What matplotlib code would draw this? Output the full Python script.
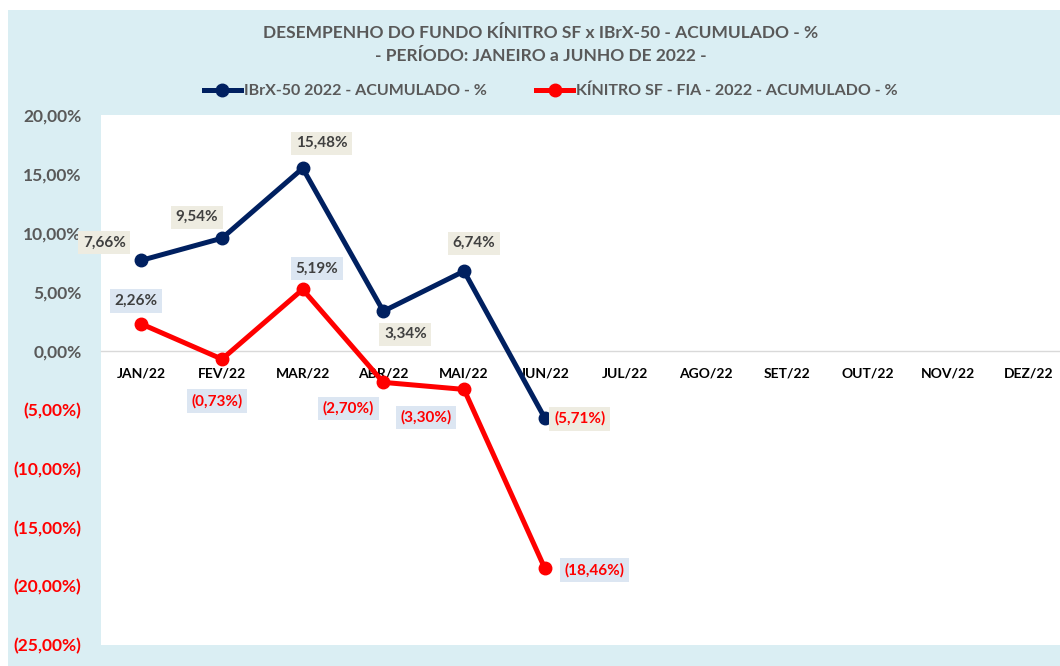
import matplotlib
matplotlib.use('Agg')
import matplotlib.pyplot as plt
from matplotlib.patches import Rectangle
from matplotlib.lines import Line2D

# dados (% acumulado 2022)
meses = ['JAN/22', 'FEV/22', 'MAR/22', 'ABR/22', 'MAI/22', 'JUN/22',
         'JUL/22', 'AGO/22', 'SET/22', 'OUT/22', 'NOV/22', 'DEZ/22']
ibrx = [7.66, 9.54, 15.48, 3.34, 6.74, -5.71]
kinitro = [2.26, -0.73, 5.19, -2.70, -3.30, -18.46]
y_ticks = [20, 15, 10, 5, 0, -5, -10, -15, -20, -25]

# posicao dos rotulos (pixels a partir do ponto)
off_ibrx = [(-37, 18), (-25, 21), (19, 25), (22, -23), (10, 28), (35, -1)]
off_kin = [(-5, 23), (-5, -42), (14, 21), (-35, -26), (-38, -28), (50, -2)]

AZUL = '#002060'
VERM = '#FF0000'
CINZA = '#595959'
TXT = '#404040'

plt.rcParams['font.family'] = ['Lato', 'DejaVu Sans']
plt.rcParams['font.weight'] = 'bold'


def fmt(v):
    s = f'{abs(v):.2f}'.replace('.', ',') + '%'
    return s if v >= 0 else '(' + s + ')'


fig = plt.figure(figsize=(10.6, 6.66), dpi=100, facecolor='white')
fig.patches.append(Rectangle((8 / 1060, 0), 1, 1 - 10 / 666, transform=fig.transFigure,
                             facecolor='#DAEEF3', edgecolor='none', zorder=-10))

ax = fig.add_axes([101 / 1060, 21 / 666, 968 / 1060, 530 / 666])
ax.set_facecolor('white')

x = range(len(ibrx))
ax.plot(x, ibrx, color=AZUL, lw=3.6, marker='o', ms=9, zorder=3,
        label='IBrX-50 2022 - ACUMULADO - %')
ax.plot(x, kinitro, color=VERM, lw=3.6, marker='o', ms=9, zorder=3,
        label='KÍNITRO SF - FIA - 2022 - ACUMULADO - %')

ax.set_xlim(-0.5, len(meses) - 0.5)
ax.set_ylim(-25, 20)
ax.set_xticks(range(len(meses)))
ax.set_xticklabels(meses, fontsize=11, color=CINZA, fontweight='bold')
ax.set_yticks(y_ticks)
ax.set_yticklabels([fmt(v) for v in y_ticks], fontsize=12.5, fontweight='bold')
for lab, v in zip(ax.get_yticklabels(), y_ticks):
    lab.set_color(VERM if v < 0 else CINZA)
ax.tick_params(axis='both', length=0)
ax.tick_params(axis='y', pad=14)
ax.tick_params(axis='x', pad=12)

for s in ['top', 'right', 'left']:
    ax.spines[s].set_visible(False)
ax.spines['bottom'].set_position(('data', 0))
ax.spines['bottom'].set_color('#D9D9D9')
ax.spines['bottom'].set_linewidth(1)

# rotulos de dados
for i, v in enumerate(ibrx):
    ax.annotate(fmt(v), (i, v), xytext=off_ibrx[i], textcoords='offset pixels',
                ha='center', va='center', fontsize=11, fontweight='bold',
                color=VERM if v < 0 else TXT, zorder=5,
                bbox=dict(boxstyle='square,pad=0.3', fc='#EEECE1', ec='none'))
for i, v in enumerate(kinitro):
    ax.annotate(fmt(v), (i, v), xytext=off_kin[i], textcoords='offset pixels',
                ha='center', va='center', fontsize=11, fontweight='bold',
                color=VERM if v < 0 else TXT, zorder=5,
                bbox=dict(boxstyle='square,pad=0.3', fc='#DCE6F2', ec='none'))

fig.text(541 / 1060, 1 - 33 / 666, 'DESEMPENHO DO FUNDO KÍNITRO SF x IBrX-50 - ACUMULADO - %',
         ha='center', va='center', fontsize=12.5, fontweight='bold', color=CINZA)
fig.text(541 / 1060, 1 - 56 / 666, '- PERÍODO: JANEIRO a JUNHO DE 2022 -',
         ha='center', va='center', fontsize=12.5, fontweight='bold', color=CINZA)

handles = [Line2D([], [], color=AZUL, lw=3.6, marker='o', ms=9),
           Line2D([], [], color=VERM, lw=3.6, marker='o', ms=9)]
leg = fig.legend(handles, [l.get_label() for l in ax.get_lines()], loc='center',
                 bbox_to_anchor=(551 / 1060, 1 - 91 / 666), ncol=2, frameon=False,
                 fontsize=11.5, handlelength=2.3, handletextpad=0.2, columnspacing=3.1)
for t in leg.get_texts():
    t.set_color(CINZA)

fig.savefig('out.png', dpi=100, facecolor=fig.get_facecolor())
